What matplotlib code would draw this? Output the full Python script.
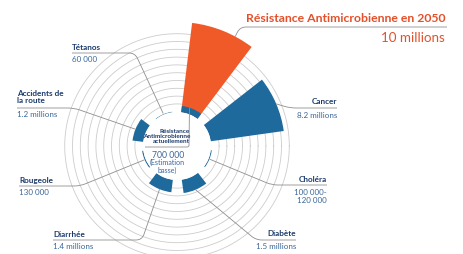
import numpy as np
import matplotlib.pyplot as plt
from matplotlib.path import Path
from matplotlib.patches import PathPatch

plt.rcParams['font.family'] = ['Lato', 'DejaVu Sans']

# données (millions de décès par an)
causes = ['Cancer', 'Résistance 2050', 'Tétanos', 'Accidents de la route',
          'Rougeole', 'Diarrhée', 'Diabète', 'Choléra']
deces = [8.2, 10.0, 0.06, 1.2, 0.13, 1.4, 1.5, 0.11]
ram_actuelle = 0.7
libelles = ['Cancer', 'Tétanos', 'Accidents de\nla route', 'Rougeole',
            'Diarrhée', 'Diabète', 'Choléra']
valeurs_txt = ['8.2 millions', '60 000', '1.2 millions', '130 000',
               '1.4 millions', '1.5 millions', '100 000-\n120 000']

BLEU = '#1f6a9c'
ORANGE = '#ef5a28'
MARINE = '#1b3a6b'
BLEU_TXT = '#3a679a'
GRIS = '#8f8f8f'

W, H = 463, 254
fig = plt.figure(figsize=(W / 100, H / 100), dpi=100)

# axe polaire : centre et échelle radiale en pixels
cx, cy = 177, 146
k = 9.0        # pixels par million
r_in = 34      # rayon du disque central
rmax = 10.4
R = (rmax + r_in / k) * k
ax = fig.add_axes([(cx - R) / W, (H - cy - R) / H, 2 * R / W, 2 * R / H],
                  projection='polar')
ax.set_ylim(0, rmax)
ax.set_rorigin(-r_in / k)
ax.axis('off')

# cercles concentriques
tt = np.linspace(0, 2 * np.pi, 400)
for rr in np.linspace(0.9, 8.7, 10):
    ax.plot(tt, np.full_like(tt, rr), color='#cccccc', lw=0.6, zorder=0)

angles = np.radians([23 + 45 * i for i in range(len(causes))])
couleurs = [ORANGE if c == 'Résistance 2050' else BLEU for c in causes]
ax.bar(angles, deces, width=np.radians(30), bottom=0, color=couleurs, lw=0, zorder=2)
i_ram = causes.index('Résistance 2050')
ax.bar(angles[i_ram], ram_actuelle, width=np.radians(30), bottom=0, color=BLEU,
       lw=0, zorder=3)

# calque en pixels pour textes et lignes de rappel
ov = fig.add_axes([0, 0, 1, 1], zorder=5)
ov.set_xlim(0, W)
ov.set_ylim(H, 0)
ov.axis('off')
ov.patch.set_alpha(0)


def to_px(theta, r):
    d = ax.transData.transform((theta, r))
    return ov.transData.inverted().transform(d)


def rappel(x0, y0, xe, cible, rc=6):
    tx, ty = cible
    v = np.array([tx - xe, ty - y0])
    v = v / np.hypot(*v)
    s = np.sign(xe - x0)
    p1 = (xe - s * rc, y0)
    p2 = (xe + v[0] * rc, y0 + v[1] * rc)
    path = Path([(x0, y0), p1, (xe, y0), p2, (tx, ty)],
                [Path.MOVETO, Path.LINETO, Path.CURVE3, Path.CURVE3, Path.LINETO])
    ov.add_patch(PathPatch(path, fc='none', ec=GRIS, lw=0.6))


# position des étiquettes : (x, y nom, y trait, y valeur, alignement, coude)
etiquettes = {
    'Cancer': (337, 101.5, 108, 115.5, 'right', 290),
    'Tétanos': (72, 47, 53, 60, 'left', 135),
    'Accidents de la route': (17, 97, 108, 114.5, 'left', 74),
    'Rougeole': (19, 180, 186, 192.5, 'left', 80),
    'Diarrhée': (53, 234.5, 240, 246.5, 'left', 142),
    'Diabète': (296, 234, 240, 246.5, 'right', 256),
    'Choléra': (327, 179.5, 185, 196.5, 'right', 272),
}
j = 0
for i, c in enumerate(causes):
    if c == 'Résistance 2050':
        continue
    x, yn, yl, yv, ha, xe = etiquettes[c]
    ov.text(x, yn, libelles[j], ha=ha, va='center', fontsize=5.9,
            fontweight='bold', color=MARINE, linespacing=1.05)
    ov.text(x, yv, valeurs_txt[j], ha=ha, va='center', fontsize=5.8,
            color=BLEU_TXT, linespacing=1.3)
    rappel(x, yl, xe, to_px(angles[i], max(deces[i], 0.15)))
    j += 1

# titre : résistance en 2050
ov.text(445, 18, 'Résistance Antimicrobienne en 2050', ha='right', va='center',
        fontsize=8.8, fontweight='bold', color='#e4502a')
ov.text(445, 37.5, '10 millions', ha='right', va='center', fontsize=9.6,
        color='#e4502a')
rappel(447, 27, 240, to_px(angles[i_ram] - np.radians(6), deces[i_ram]))

# disque central : résistance actuelle
ov.text(190, 136.5, 'Résistance\nAntimicrobienne\nactuellement', ha='right',
        va='center', multialignment='right', fontsize=4.6, fontweight='bold',
        color=MARINE, linespacing=0.98)
ov.text(152, 155, '700 000', ha='left', va='center', fontsize=6.2, color=BLEU_TXT)
ov.text(167, 166.5, '(Estimation\nbasse)', ha='center', va='center', fontsize=5.1,
        color=BLEU_TXT, linespacing=1.0)
rappel(145, 147, 189, to_px(angles[i_ram] + np.radians(4), ram_actuelle), rc=2)

fig.savefig('out.png', dpi=100)
